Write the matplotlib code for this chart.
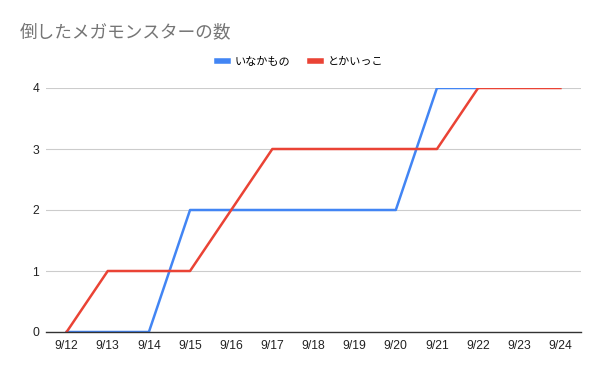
import matplotlib
matplotlib.use("Agg")
import matplotlib.pyplot as plt
import numpy as np

# data
dates = ["9/12", "9/13", "9/14", "9/15", "9/16", "9/17", "9/18",
         "9/19", "9/20", "9/21", "9/22", "9/23", "9/24"]
inaka = [0, 0, 0, 2, 2, 2, 2, 2, 2, 4, 4]
tokai = [0, 1, 1, 1, 2, 3, 3, 3, 3, 3, 4, 4, 4]
y_ticks = [0, 1, 2, 3, 4]

plt.rcParams['font.family'] = ['Liberation Sans', 'Noto Sans CJK JP', 'DejaVu Sans']

fig = plt.figure(figsize=(6, 3.71), dpi=100)
ax = fig.add_axes([46 / 600, 1 - 332 / 371, (581 - 46) / 600, (332 - 88) / 371])

x = np.arange(len(dates))
ax.plot(x[:len(inaka)], inaka, color="#4285f4", lw=1.8, label="いなかもの", zorder=3)
ax.plot(x, tokai, color="#ea4335", lw=1.8, label="とかいっこ", zorder=3)

ax.set_xlim(-0.5, len(dates) - 0.5)
ax.set_ylim(0, 4)
ax.set_xticks(x)
ax.set_xticklabels(dates)
ax.set_yticks(y_ticks)
ax.tick_params(length=0, labelsize=8.7, colors="#222222", pad=6)
ax.tick_params(axis="y", pad=5)
ax.grid(axis="y", color="#cccccc", lw=0.8)
ax.set_axisbelow(True)
for s in ["top", "right", "left"]:
    ax.spines[s].set_visible(False)
ax.spines["bottom"].set_color("#333333")
ax.spines["bottom"].set_linewidth(1)
ax.spines["bottom"].set_zorder(4)

fig.text(20 / 600, 1 - 32 / 371, "倒したメガモンスターの数", fontsize=12.7,
         color="#757575", va="center", ha="left", family=['Noto Sans CJK JP', 'DejaVu Sans'])

leg = fig.legend(loc="center", bbox_to_anchor=(300 / 600, 1 - 62 / 371), ncol=2,
                 frameon=False, handlelength=1.0, handletextpad=0.6,
                 columnspacing=1.8, prop={'family': ['Noto Sans CJK JP', 'DejaVu Sans'], 'size': 8})
for line in leg.get_lines():
    line.set_linewidth(4)

fig.savefig("out.png", dpi=100)
